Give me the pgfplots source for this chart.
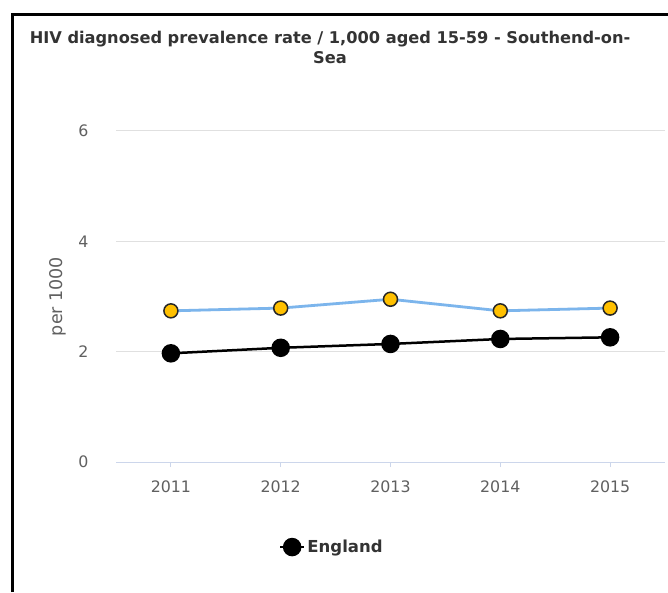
\documentclass[border=0pt]{standalone}
\usepackage{pgfplots}
\pgfplotsset{compat=1.18}
\usepackage{fontspec}
\setmainfont{DejaVu Sans}
\definecolor{hcblue}{HTML}{7CB5EC}
\definecolor{hcgold}{HTML}{FFC000}
\definecolor{gridc}{HTML}{E0E0E0}
\definecolor{axisc}{HTML}{CCD6EB}
\definecolor{lab}{HTML}{606060}
\definecolor{ttl}{HTML}{333333}
\begin{document}
\begin{tikzpicture}[x=1pt,y=1pt]
\useasboundingbox (0,0) rectangle (668,592);
\fill[white] (0,0) rectangle (668,592);
\draw[line width=3pt] (12,0) -- (12,577.5) -- (668,577.5);
\node[font=\bfseries\fontsize{16.2}{20}\selectfont, align=center, text=ttl] at (330,545) {HIV diagnosed prevalence rate / 1,000 aged 15-59 - Southend-on-\\Sea};
\begin{axis}[
  at={(116pt,130pt)}, anchor=south west,
  scale only axis, width=549pt, height=331pt,
  xmin=-0.5, xmax=4.5, ymin=0, ymax=6,
  xtick={0,1,2,3,4}, xticklabels={2011,2012,2013,2014,2015},
  ytick={0,2,4,6},
  /pgf/number format/assume math mode=true,
  axis x line*=bottom, axis y line*=left,
  y axis line style={draw=none},
  x axis line style={axisc, line width=1pt},
  xtick style={axisc, line width=1pt},
  ytick style={draw=none},
  tick align=outside, major tick length=5pt,
  ymajorgrids, grid style={gridc, line width=1pt},
  ticklabel style={font=\fontsize{15.8}{18}\selectfont, text=lab},
  xticklabel style={yshift=-10pt},
  yticklabel style={xshift=-19pt},
  ylabel={per 1000},
  ylabel style={at={(axis description cs:-0.106,0.5)}, anchor=center, font=\fontsize{17.5}{20}\selectfont, text=lab},
  legend style={at={(axis description cs:0.393,-0.257)}, anchor=center, draw=none, fill=none, font=\bfseries\fontsize{16.5}{20}\selectfont, text=ttl},
  legend image code/.code={\draw[mark repeat=2,mark phase=2,#1] plot coordinates {(0pt,0pt)(12pt,0pt)(24pt,0pt)};},
  clip=false,
]
\addplot[hcblue, line width=2.8pt, mark=*, mark size=7pt, mark options={fill=hcgold, draw=black!85, line width=1.5pt}, forget plot]
  coordinates {(0,2.74)(1,2.79)(2,2.95)(3,2.74)(4,2.79)};
\addplot[black, line width=2.5pt, mark=*, mark size=8pt, mark options={fill=black, draw=black}]
  coordinates {(0,1.97)(1,2.07)(2,2.14)(3,2.23)(4,2.26)};
\addlegendentry{England}
\end{axis}
\end{tikzpicture}
\end{document}
